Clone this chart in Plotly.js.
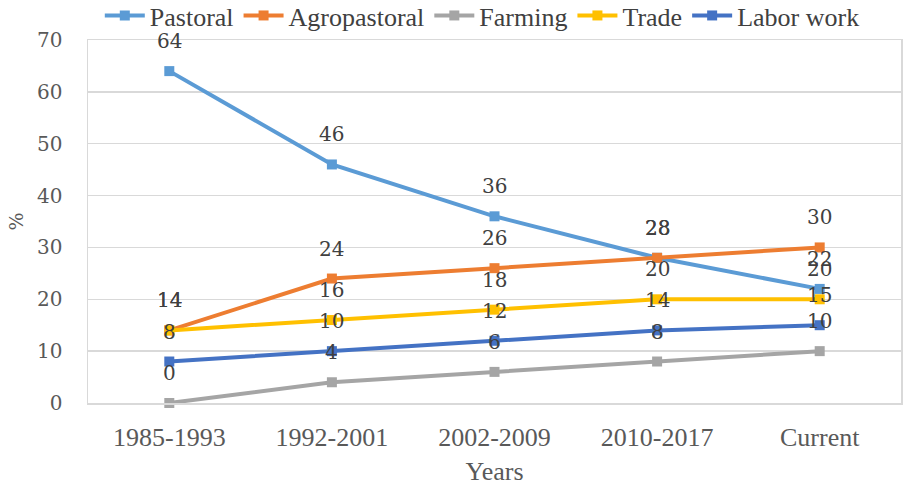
<!DOCTYPE html>
<html>
<head>
<meta charset="utf-8">
<script src="https://cdn.plot.ly/plotly-3.0.1.min.js"></script>
<style>html,body{margin:0;padding:0;background:#fff;}#chart{width:910px;height:486px;}</style>
</head>
<body>
<div id="chart"></div>
<script>
var categories = ["1985-1993", "1992-2001", "2002-2009", "2010-2017", "Current"];
var seriesNames = ["Pastoral", "Agropastoral", "Farming", "Trade", "Labor work"];
var pastoral = [64, 46, 36, 28, 22];
var agropastoral = [14, 24, 26, 28, 30];
var farming = [0, 4, 6, 8, 10];
var trade = [14, 16, 18, 20, 20];
var laborWork = [8, 10, 12, 14, 15];
var colors = ["#5B9BD5", "#ED7D31", "#A5A5A5", "#FFC000", "#4472C4"];
var yTicks = [0, 10, 20, 30, 40, 50, 60, 70];

var allSeries = [pastoral, agropastoral, farming, trade, laborWork];
var FONT = "Liberation Serif";
var SMALLFONT = "DejaVu Serif";

var traces = allSeries.map(function (vals, i) {
  return {
    type: "scatter",
    mode: "lines+markers",
    name: seriesNames[i],
    x: categories,
    y: vals,
    line: {color: colors[i], width: 4},
    marker: {color: colors[i], size: 10, symbol: "square"},
    cliponaxis: false
  };
});

var annotations = [];
allSeries.forEach(function (vals) {
  vals.forEach(function (v, j) {
    annotations.push({
      x: categories[j], y: v, xref: "x", yref: "y",
      text: String(v), showarrow: false, yshift: 30,
      yanchor: "middle", xanchor: "center",
      font: {family: SMALLFONT, size: 20, color: "#404040"}
    });
  });
});

var layout = {
  width: 910, height: 486,
  margin: {l: 88, r: 9, t: 40, b: 83},
  paper_bgcolor: "#ffffff", plot_bgcolor: "#ffffff",
  font: {family: FONT, color: "#595959"},
  showlegend: true,
  legend: {
    orientation: "h", x: 0.53, xref: "container", xanchor: "center",
    y: 0.968, yref: "container", yanchor: "middle",
    font: {family: FONT, size: 26, color: "#404040"},
    itemwidth: 40, tracegroupgap: 0, bgcolor: "rgba(0,0,0,0)"
  },
  xaxis: {
    type: "category", range: [-0.5, 4.5],
    showgrid: false, zeroline: false,
    showline: true, mirror: true, linecolor: "#d9d9d9", linewidth: 1.5,
    ticks: "", tickfont: {family: FONT, size: 26, color: "#595959"},
    ticklabelstandoff: 10,
    title: {text: "Years", font: {family: FONT, size: 26, color: "#595959"}, standoff: 20}
  },
  yaxis: {
    range: [0, 70], tickvals: yTicks,
    showgrid: true, gridcolor: "#d9d9d9", gridwidth: 1.5,
    zeroline: false,
    showline: true, mirror: true, linecolor: "#d9d9d9", linewidth: 1.5,
    ticks: "", tickfont: {family: SMALLFONT, size: 20, color: "#595959"},
    ticklabelstandoff: 20,
    title: {text: "%", font: {family: SMALLFONT, size: 19, color: "#595959"}, standoff: 8}
  },
  annotations: annotations
};

Plotly.newPlot("chart", traces, layout, {displayModeBar: false, staticPlot: true});
</script>
</body>
</html>
